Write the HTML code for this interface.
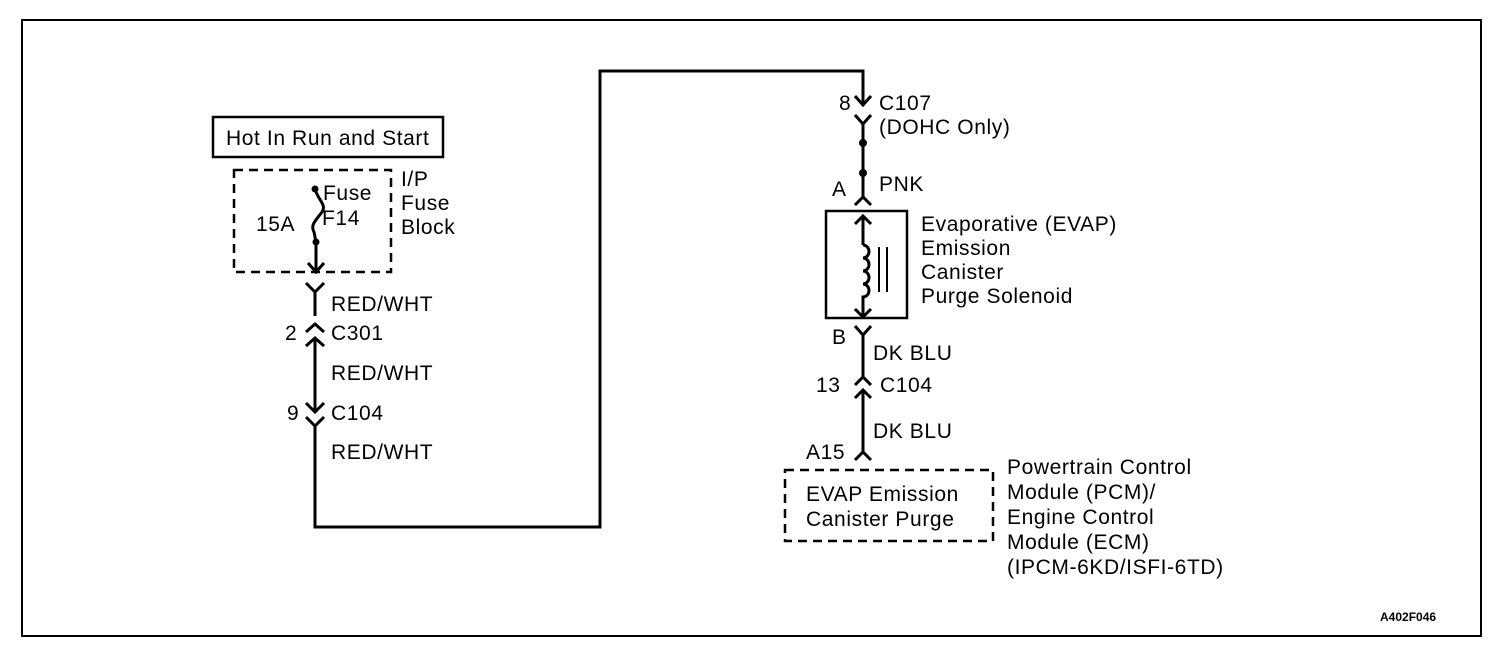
<!DOCTYPE html>
<html><head><style>
body{margin:0;background:#fff}
svg{display:block}
text{font-family:"Liberation Sans",Arial,sans-serif;font-size:21px;letter-spacing:0.6px;fill:#000}
</style></head><body>
<svg width="1504" height="664" viewBox="0 0 1504 664" xmlns="http://www.w3.org/2000/svg">
<rect x="0" y="0" width="1504" height="664" fill="#fff"/>
<rect x="22" y="20" width="1459" height="616" fill="none" stroke="#000" stroke-width="2"/>
<g fill="none" stroke="#000" stroke-width="3">
<rect x="213" y="117" width="230" height="40" stroke-width="2.5"/>
<rect x="234" y="170" width="157" height="102" stroke-dasharray="9,6" stroke-width="2.5"/>
<path d="M315,189 C318,200 327,205 322,212 C316,220 310,225 314,232 L316,242 L316,272"/>
<path d="M308,263 L316,272 L324,263"/>
<path d="M306,283 L315,292 L324,283 M315,292 L315,316"/>
<path d="M306,332 L315,324 L324,332"/>
<path d="M306,346 L315,338 L324,346 M315,338 L315,412"/>
<path d="M306,403 L315,412 L324,403"/>
<path d="M306,417 L315,426 L324,417 M315,426 L315,527 L600,527 L600,71 L863,71 L863,105"/>
<path d="M855,96 L863,105 L871,96"/>
<path d="M855,115 L863,124 L871,115 M863,124 L863,197"/>
<path d="M855,205 L863,197 L871,205"/>
<rect x="826" y="211" width="81" height="107" stroke-width="2.5"/>
<path d="M855,224 L863,216 L871,224 M863,216 L863,245"/>
<path d="M863,245 a6,6.5 0 0 1 0,13 a6,6.5 0 0 1 0,13 a6,6.5 0 0 1 0,13 a6,6.5 0 0 1 0,13 L863,317"/>
<path d="M855,309 L863,317 L871,309"/>
<path d="M879,247 L879,292 M887,247 L887,292" stroke-width="2"/>
<path d="M855,326 L863,335 L871,326 M863,335 L863,377"/>
<path d="M855,385 L863,377 L871,385"/>
<path d="M855,398 L863,390 L871,398 M863,390 L863,452"/>
<path d="M855,460 L863,452 L871,460"/>
<rect x="785" y="470" width="208" height="71" stroke-dasharray="9,6" stroke-width="2.5"/>
</g>
<circle cx="315" cy="189" r="3.5"/><circle cx="316" cy="242" r="3.5"/>
<circle cx="863" cy="143" r="4"/><circle cx="863" cy="173" r="4"/>
<text x="226" y="145">Hot In Run and Start</text>
<text x="323" y="200">Fuse</text>
<text x="322" y="225">F14</text>
<text x="256" y="231">15A</text>
<text x="401" y="186">I/P</text>
<text x="401" y="210">Fuse</text>
<text x="401" y="234">Block</text>
<text x="331" y="311">RED/WHT</text>
<text x="285" y="340">2</text>
<text x="331" y="340">C301</text>
<text x="331" y="380">RED/WHT</text>
<text x="287" y="420">9</text>
<text x="331" y="420">C104</text>
<text x="331" y="459">RED/WHT</text>
<text x="839" y="110">8</text>
<text x="879" y="110">C107</text>
<text x="879" y="134">(DOHC Only)</text>
<text x="879" y="191">PNK</text>
<text x="832" y="196">A</text>
<text x="921" y="231">Evaporative (EVAP)</text>
<text x="921" y="255">Emission</text>
<text x="921" y="279">Canister</text>
<text x="921" y="303">Purge Solenoid</text>
<text x="832" y="344">B</text>
<text x="873" y="360">DK BLU</text>
<text x="816" y="392">13</text>
<text x="880" y="392">C104</text>
<text x="873" y="438">DK BLU</text>
<text x="806" y="459">A15</text>
<text x="806" y="501">EVAP Emission</text>
<text x="806" y="526">Canister Purge</text>
<text x="1007" y="474">Powertrain Control</text>
<text x="1007" y="499">Module (PCM)/</text>
<text x="1007" y="524">Engine Control</text>
<text x="1007" y="549">Module (ECM)</text>
<text x="1007" y="574">(IPCM-6KD/ISFI-6TD)</text>
<text x="1380" y="621" style="font-size:12px;font-weight:bold;letter-spacing:0">A402F046</text>
</svg>
</body></html>
